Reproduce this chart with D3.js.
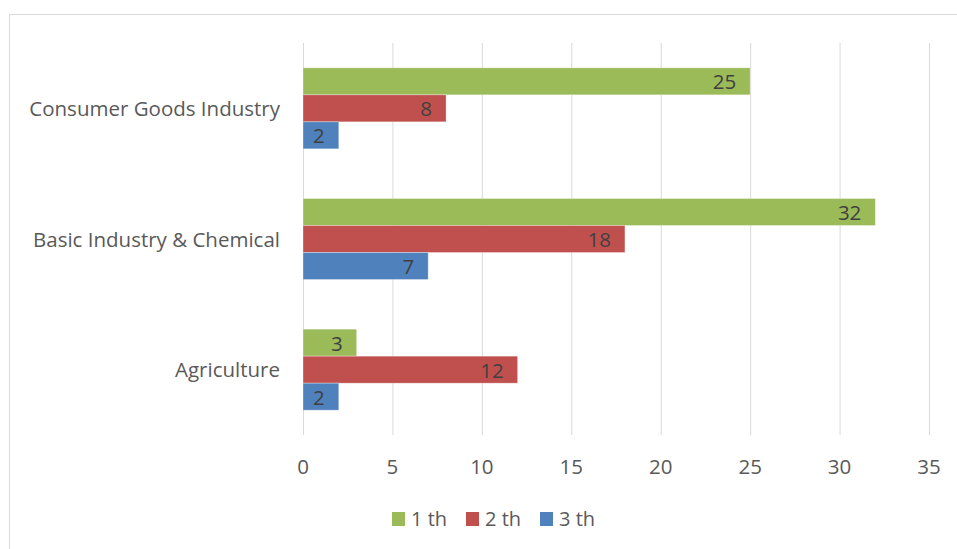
<!DOCTYPE html>
<html><head><meta charset="utf-8">
<script src="https://cdn.jsdelivr.net/npm/d3@7"></script>
<style>body{margin:0;background:#fff;}svg{display:block;}</style>
</head><body>
<script>
const categories = ["Consumer Goods Industry", "Basic Industry & Chemical", "Agriculture"];
const seriesNames = ["1 th", "2 th", "3 th"];
const series1 = [25, 32, 3];
const series2 = [8, 18, 12];
const series3 = [2, 7, 2];
const xTicks = [0, 5, 10, 15, 20, 25, 30, 35];
const colors = ["#9BBB59", "#C0504D", "#4F81BD"];

(function () {
const W = 957, H = 549;
const font = "'Open Sans', 'Liberation Sans', sans-serif";
const svg = d3.select("body").append("svg").attr("width", W).attr("height", H);
svg.append("rect").attr("x", 9.5).attr("y", 14.5).attr("width", W + 10).attr("height", H + 10)
  .attr("fill", "#fff").attr("stroke", "#d9d9d9").attr("stroke-width", 1);

const pLeft = 303, pRight = 929, pTop = 43, pBottom = 435;
const x = d3.scaleLinear().domain([0, 35]).range([pLeft, pRight]);
const y = d3.scaleBand().domain(categories).range([pTop, pBottom]).paddingInner(0.38).paddingOuter(0.19);
const yi = d3.scaleBand().domain(seriesNames).range([0, y.bandwidth()]);

// gridlines
svg.append("g").selectAll("line").data(xTicks).join("line")
  .attr("x1", d => x(d) + 0.5).attr("x2", d => x(d) + 0.5)
  .attr("y1", pTop).attr("y2", pBottom)
  .attr("stroke", "#d9d9d9").attr("stroke-width", 1);

// tick labels
svg.append("g").selectAll("text").data(xTicks).join("text")
  .attr("x", d => x(d)).attr("y", 474).attr("text-anchor", "middle")
  .attr("font-family", font).attr("font-size", 20.5).attr("fill", "#595959").text(d => d);

// category labels
svg.append("g").selectAll("text").data(categories).join("text")
  .attr("x", 280).attr("y", d => y(d) + y.bandwidth() / 2 + 7.5).attr("text-anchor", "end")
  .attr("font-family", font).attr("font-size", 20.5).attr("fill", "#595959").text(d => d);

const all = [series1, series2, series3];
const data = [];
categories.forEach((c, i) => seriesNames.forEach((s, j) => data.push({c, s, v: all[j][i], j})));

const g = svg.append("g");
g.selectAll("rect").data(data).join("rect")
  .attr("x", x(0)).attr("y", d => y(d.c) + yi(d.s))
  .attr("width", d => x(d.v) - x(0)).attr("height", yi.bandwidth())
  .attr("fill", d => colors[d.j]).attr("stroke", "#fff").attr("stroke-opacity", 0.4).attr("stroke-width", 0.8);

g.selectAll("text").data(data).join("text")
  .attr("x", d => x(d.v) - 14).attr("y", d => y(d.c) + yi(d.s) + yi.bandwidth() / 2 + 8)
  .attr("text-anchor", "end").attr("font-family", font).attr("font-size", 20.5).attr("fill", "#404040")
  .text(d => d.v);

// legend
const lg = svg.append("g");
const lx = [392, 466, 540];
seriesNames.forEach((s, j) => {
  lg.append("rect").attr("x", lx[j]).attr("y", 512).attr("width", 13).attr("height", 14).attr("fill", colors[j]);
  lg.append("text").attr("x", lx[j] + 19).attr("y", 526).attr("font-family", font).attr("font-size", 20)
    .attr("fill", "#595959").text(s);
});
})();
</script>
</body></html>
